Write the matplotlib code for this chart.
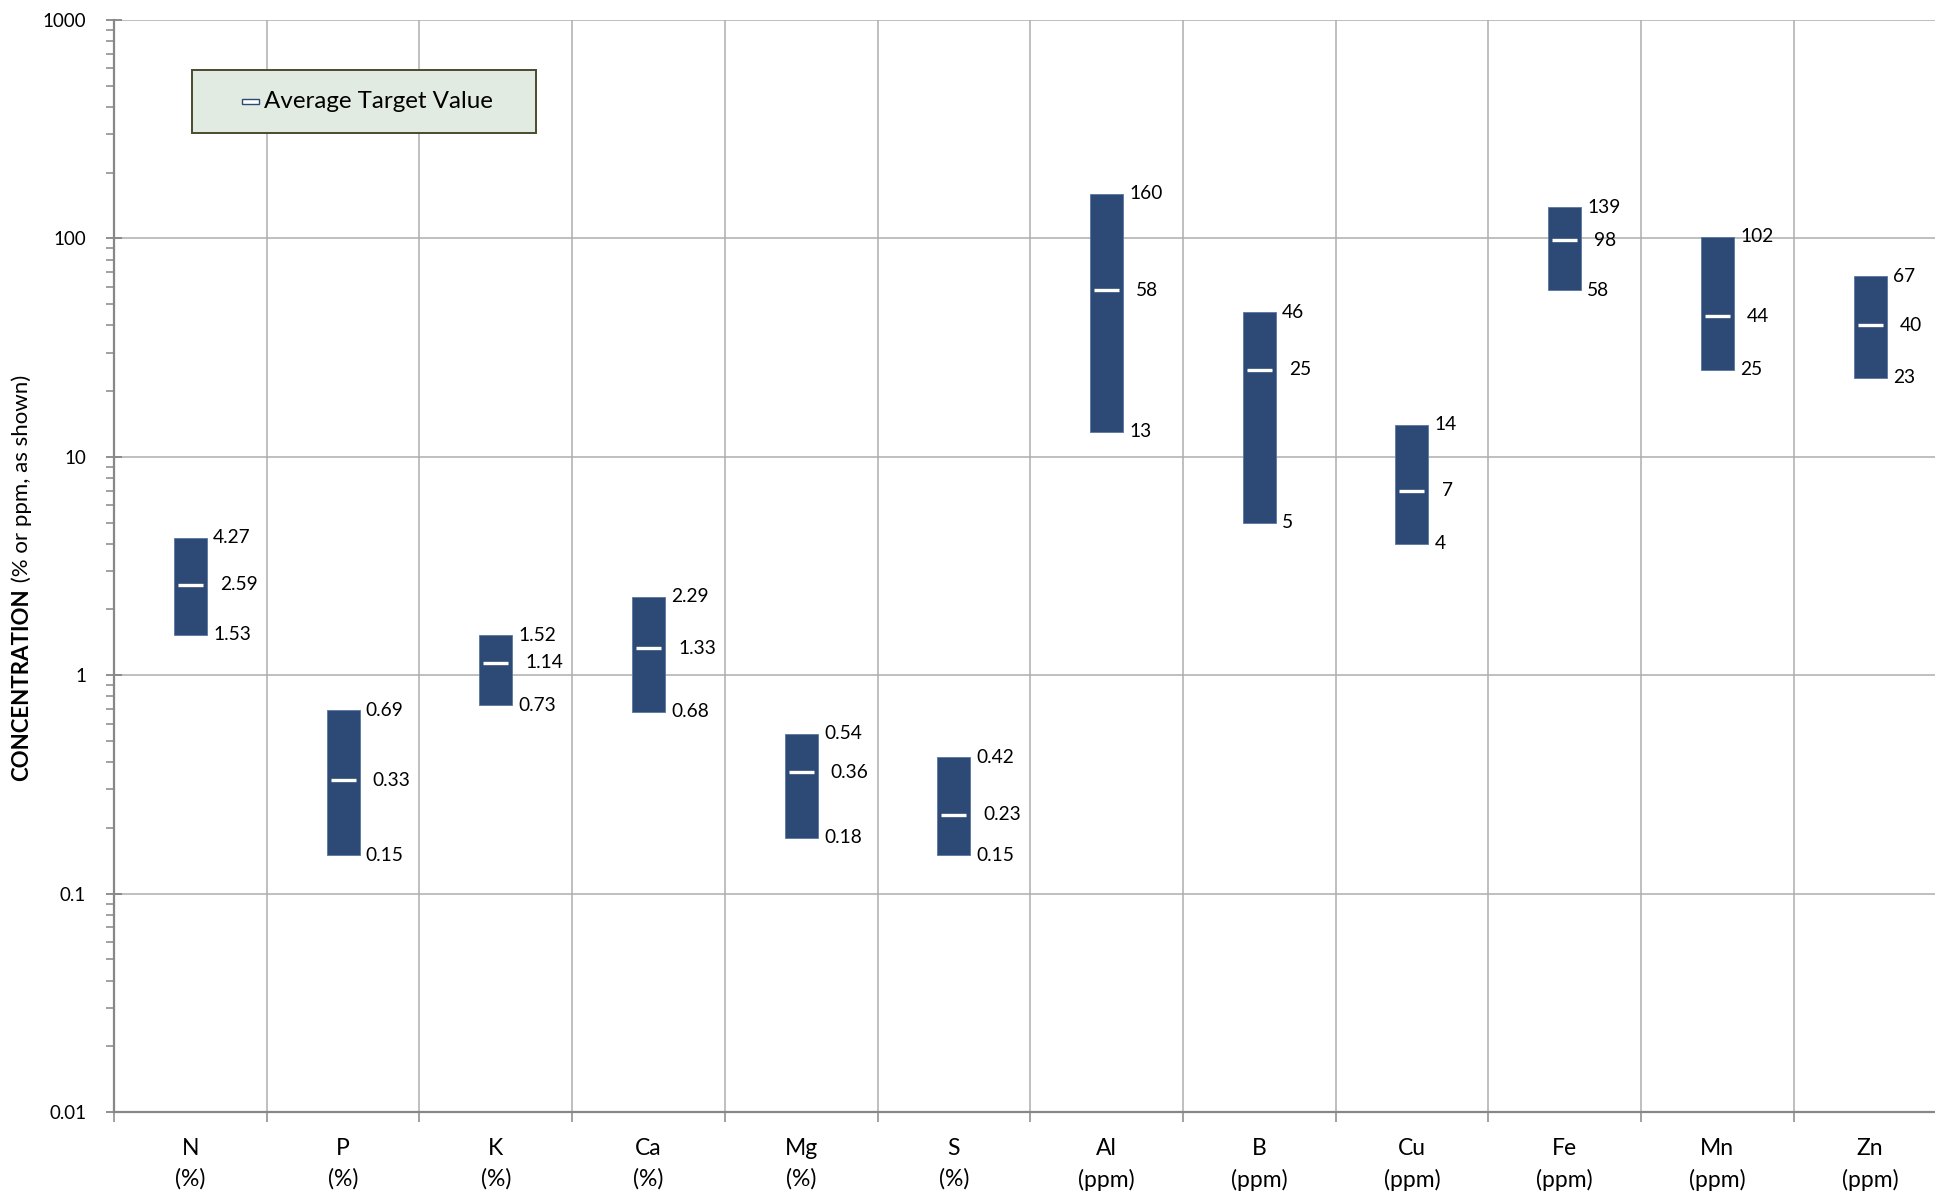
import matplotlib
matplotlib.use("Agg")
import matplotlib.pyplot as plt
from matplotlib.patches import Rectangle
from matplotlib.ticker import LogLocator, FuncFormatter, NullFormatter
import numpy as np

plt.rcParams['font.family'] = ['Lato', 'DejaVu Sans']

# nutrient target ranges (low / average / high)
nutrients = ['N', 'P', 'K', 'Ca', 'Mg', 'S', 'Al', 'B', 'Cu', 'Fe', 'Mn', 'Zn']
units = ['%', '%', '%', '%', '%', '%', 'ppm', 'ppm', 'ppm', 'ppm', 'ppm', 'ppm']
low = [1.53, 0.15, 0.73, 0.68, 0.18, 0.15, 13, 5, 4, 58, 25, 23]
avg = [2.59, 0.33, 1.14, 1.33, 0.36, 0.23, 58, 25, 7, 98, 44, 40]
high = [4.27, 0.69, 1.52, 2.29, 0.54, 0.42, 160, 46, 14, 139, 102, 67]

bar_color = '#2C4A75'
axis_gray = '#878787'
grid_gray = '#ADADAD'

W, H = 1935, 1196
fig = plt.figure(figsize=(W / 100, H / 100), dpi=100)
ax = fig.add_axes([114 / W, 1 - 1112 / H, 12 * 152.7 / W, 1092 / H])

x = np.arange(len(nutrients)) + 0.5
lo = np.array(low)
hi = np.array(high)
ax.bar(x, hi - lo, bottom=lo, width=0.216, color=bar_color,
       edgecolor='#5A76A0', linewidth=0.6, zorder=3)
ax.hlines(avg, x - 0.082, x + 0.082, color='white', linewidth=2.4, zorder=4)

fmt = lambda v: f'{v:g}'
for xi, l, a, h in zip(x, low, avg, high):
    for val, dx in ((h, 4.5), (l, 4.5), (a, 9.5)):
        ax.annotate(fmt(val), (xi + 0.108, val), xytext=(dx, 0),
                    textcoords='offset points', ha='left', va='center',
                    fontsize=13.8, color='black', zorder=5)

ax.set_yscale('log')
ax.set_ylim(0.01, 1000)
ax.set_xlim(0, 12)

# y axis ticks
ax.yaxis.set_major_locator(LogLocator(base=10, numticks=10))
ax.yaxis.set_minor_locator(LogLocator(base=10, subs=np.arange(2, 10), numticks=20))
ax.yaxis.set_major_formatter(FuncFormatter(lambda v, p: f'{v:g}'))
ax.yaxis.set_minor_formatter(NullFormatter())
ax.tick_params(axis='y', which='major', direction='inout', length=12, width=1.3,
               color=axis_gray, labelsize=13.5, pad=14)
ax.tick_params(axis='y', which='minor', direction='out', length=6, width=1.1,
               color=axis_gray)

# x axis: boundaries as major ticks, category names at centres
ax.set_xticks(np.arange(13), labels=[''] * 13)
ax.set_xticks(x, labels=[f'{n}\n({u})' for n, u in zip(nutrients, units)], minor=True)
ax.tick_params(axis='x', which='major', direction='out', length=7, width=1.1,
               color=axis_gray)
ax.tick_params(axis='x', which='minor', length=0, labelsize=16.5, pad=18.5)
for lab in ax.get_xticklabels(minor=True):
    lab.set_linespacing(1.55)

ax.grid(True, which='major', color=grid_gray, linewidth=1.1, zorder=0)
ax.set_axisbelow(True)
for side in ('top', 'right'):
    ax.spines[side].set_visible(False)
for side in ('left', 'bottom'):
    ax.spines[side].set_color(axis_gray)
    ax.spines[side].set_linewidth(1.6)

# y label: bold name followed by regular units
t1 = fig.text(22 / W, 1 - 781 / H, 'CONCENTRATION', rotation=90, fontsize=16,
              fontweight='bold', ha='center', va='bottom')
fig.canvas.draw()
ax.annotate(' (% or ppm, as shown)', xy=(0.5, 1.0), xycoords=t1, rotation=90,
            fontsize=16, ha='center', va='bottom', annotation_clip=False)

# legend box
fig.add_artist(Rectangle((192 / W, 1 - 133 / H), 344 / W, 63 / H,
                         transform=fig.transFigure, facecolor='#E2EBE2',
                         edgecolor='#4A4A2E', linewidth=1.4))
fig.add_artist(Rectangle((242 / W, 1 - 104 / H), 17 / W, 5 / H,
                         transform=fig.transFigure, facecolor='white',
                         edgecolor=bar_color, linewidth=1.0))
fig.text(264 / W, 1 - 101 / H, 'Average Target Value', fontsize=17.4,
         ha='left', va='center')

fig.savefig('out.png', dpi=100)
